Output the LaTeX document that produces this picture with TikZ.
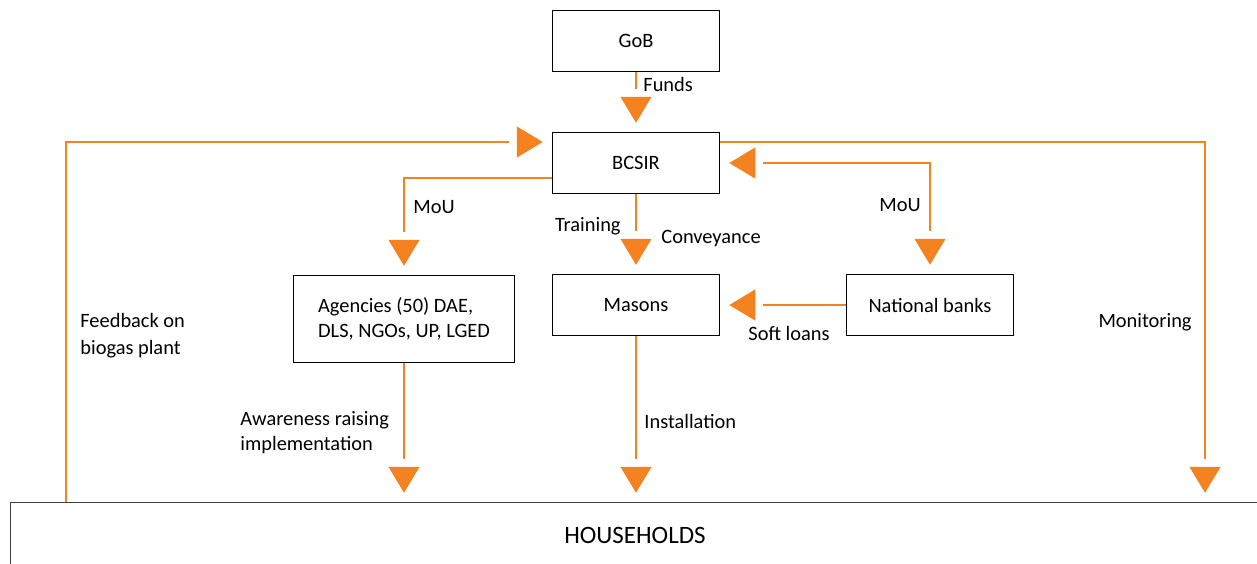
\documentclass[tikz,border=0pt]{standalone}
\usepackage{fontspec}
\setmainfont{Carlito}
\usetikzlibrary{arrows.meta}
\definecolor{flow}{RGB}{245,130,32}

\begin{document}
\begin{tikzpicture}[x=0.5pt,y=-0.5pt,
  every node/.style={inner sep=0pt,font=\fontsize{10.2}{12.5}\selectfont},
  box/.style={draw=black,line width=0.75pt,minimum width=83.5pt,minimum height=30.5pt,align=center},
  lbl/.style={align=left},
  headonly/.style={draw,dash pattern=on 0pt off 10000pt,line cap=butt},
  link/.style={color=flow,line width=0.6pt,shorten >=21.5pt,
    postaction={headonly,shorten >=4.5pt,-{Triangle[length=13pt,width=15.5pt]}}},
  twoway/.style={color=flow,line width=0.6pt,shorten >=21.5pt,shorten <=21.5pt,
    postaction={headonly,shorten >=4.5pt,shorten <=4.5pt,{Triangle[length=13pt,width=15.5pt]}-{Triangle[length=13pt,width=15.5pt]}}}]
\useasboundingbox (0,0) rectangle (1257,563);
\node [box] (gob) at (636,41) {GoB};
\node [box] (bcsir) at (636,163) {BCSIR};
\node [box] (masons) at (636,305) {Masons};
\node [box] (banks) at (930,305) {National banks};
\node [box,minimum width=110.5pt,minimum height=43.5pt,align=left] (agencies) at (404,319) {Agencies (50) DAE,\\DLS, NGOs, UP, LGED};
\node [box,draw=black!75,minimum width=624.5pt,minimum height=32.5pt,font=\fontsize{12.5}{15}\selectfont] (hh) at (635,535) {HOUSEHOLDS};
\coordinate (fb) at (66,142);
\coordinate (mon) at (1205,142);
\coordinate (mouL) at (404,178);
\coordinate (mouR) at (930,163);
\draw [link] (gob) -- (bcsir);
\draw [link] (fb |- hh.north) -- (fb) -- (fb -| bcsir.west);
\draw [link] (mon -| bcsir.east) -- (mon) -- (mon |- hh.north);
\draw [link] (mouL -| bcsir.west) -- (mouL) -- (agencies.north);
\draw [twoway] (bcsir.east) -- (mouR) -- (banks.north);
\draw [link] (bcsir) -- (masons);
\draw [link] (banks) -- (masons);
\draw [link] (agencies.south) -- (agencies.south |- hh.north);
\draw [link] (masons.south) -- (masons.south |- hh.north);
\node [lbl,anchor=west] (funds) at (643,84) {Funds};
\node [lbl,anchor=west] (feedback) at (80,336) {Feedback on\\[1pt]biogas plant};
\node [lbl,anchor=east] (monitoring) at (1192,322) {Monitoring};
\node [lbl,anchor=west] (mouleft) at (413,207) {MoU};
\node [lbl,anchor=east] (mouright) at (921,205) {MoU};
\node [lbl,anchor=east] (training) at (621,226) {Training};
\node [lbl,anchor=west] (conveyance) at (661,239) {Conveyance};
\node [lbl] (softloans) at (789,333) {Soft loans};
\node [lbl,anchor=west] (awareness) at (240,433) {Awareness raising\\implementation};
\node [lbl,anchor=west] (installation) at (644,421) {Installation};
\end{tikzpicture}
\end{document}
